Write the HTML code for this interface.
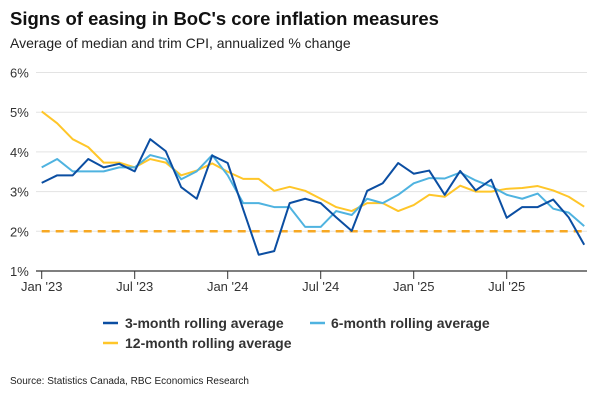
<!DOCTYPE html>
<html><head><meta charset="utf-8"><style>
body{margin:0;background:#fff;font-family:"Liberation Sans",Arial,sans-serif;}
#wrap{position:relative;width:600px;height:400px;overflow:hidden;}
</style></head><body>
<div id="wrap">
<svg id="chart" width="600" height="400" xmlns="http://www.w3.org/2000/svg">
<text x="10" y="25" font-size="18.5" font-weight="bold" fill="#111">Signs of easing in BoC's core inflation measures</text>
<text x="10" y="48" font-size="14" fill="#222">Average of median and trim CPI, annualized % change</text>
<g id="grid"></g><g id="axes"></g><g id="series"></g>
<g>
<g><line x1="103" y1="323" x2="118" y2="323" stroke="#0b4ea2" stroke-width="2.5"/><text x="125" y="328" font-size="14" font-weight="bold" fill="#333">3-month rolling average</text></g>
<g><line x1="310" y1="323" x2="325" y2="323" stroke="#4fb3e0" stroke-width="2.5"/><text x="331" y="328" font-size="14" font-weight="bold" fill="#333">6-month rolling average</text></g>
<g><line x1="103" y1="343" x2="118" y2="343" stroke="#ffc629" stroke-width="2.5"/><text x="125" y="348" font-size="14" font-weight="bold" fill="#333">12-month rolling average</text></g>
</g>
<text x="10" y="384" font-size="10" fill="#222">Source: Statistics Canada, RBC Economics Research</text>
</svg>
</div>
<script>
const yTicks=[1,2,3,4,5,6];
const xTickLabels=["Jan '23","Jul '23","Jan '24","Jul '24","Jan '25","Jul '25"];
const xTickMonths=[0,6,12,18,24,30];
const threeMonth=[3.22,3.41,3.41,3.82,3.61,3.7,3.51,4.32,4.02,3.11,2.82,3.91,3.72,2.55,1.41,1.5,2.71,2.82,2.71,2.35,2.01,3.02,3.21,3.72,3.45,3.53,2.92,3.52,3.03,3.3,2.34,2.61,2.61,2.8,2.35,1.66];
const sixMonth=[3.61,3.82,3.51,3.51,3.51,3.61,3.61,3.92,3.82,3.31,3.51,3.92,3.41,2.71,2.71,2.61,2.61,2.11,2.11,2.51,2.41,2.82,2.71,2.92,3.21,3.34,3.33,3.48,3.28,3.13,2.92,2.82,2.95,2.57,2.47,2.13];
const twelveMonth=[5.02,4.72,4.32,4.12,3.73,3.73,3.61,3.82,3.73,3.41,3.53,3.71,3.5,3.32,3.32,3.02,3.12,3.02,2.82,2.61,2.51,2.71,2.71,2.51,2.66,2.92,2.87,3.15,3.0,3.0,3.07,3.09,3.14,3.03,2.87,2.62];
const target=2;
const NS="http://www.w3.org/2000/svg";
const x0=41.7,dx=15.5,xEnd=587;
function xs(i){return x0+i*dx;}
function ys(v){return 271-(v-1)*39.7;}
function mk(tag,attrs,parent){const e=document.createElementNS(NS,tag);for(const k in attrs)e.setAttribute(k,attrs[k]);parent.appendChild(e);return e;}
const grid=document.getElementById('grid'),axes=document.getElementById('axes'),ser=document.getElementById('series');
yTicks.forEach(v=>{
 if(v>1){const l=mk('line',{x1:36,x2:xEnd,y1:ys(v),y2:ys(v),stroke:'#e3e3e3','stroke-width':1},grid);
 
 }
 const t=mk('text',{x:10,y:ys(v)+5,'font-size':13,fill:'#333'},axes);t.textContent=v+'%';
 
 
});
const ax=mk('line',{x1:36,x2:xEnd,y1:ys(1),y2:ys(1),stroke:'#333','stroke-width':1.2},axes);


xTickMonths.forEach((m,i)=>{
 const tk=mk('line',{x1:xs(m),x2:xs(m),y1:ys(1),y2:ys(1)+8,stroke:'#333','stroke-width':1},axes);
 
 
 const t=mk('text',{x:xs(m),y:ys(1)+20,'font-size':13,fill:'#333','text-anchor':'middle'},axes);t.textContent=xTickLabels[i];
 
 
});
const tl=mk('line',{x1:xs(0),x2:xs(threeMonth.length-1),y1:ys(target),y2:ys(target),stroke:'#f7a823','stroke-width':2.5,'stroke-dasharray':'8,6'},ser);


function line(data,color,name){
 const p=mk('polyline',{points:data.map((v,i)=>xs(i)+','+ys(v)).join(' '),fill:'none',stroke:color,'stroke-width':2,'stroke-linejoin':'round'},ser);
 
 
}
line(twelveMonth,'#ffc629','series-12-month');
line(sixMonth,'#4fb3e0','series-6-month');
line(threeMonth,'#0b4ea2','series-3-month');
</script>
</body></html>
